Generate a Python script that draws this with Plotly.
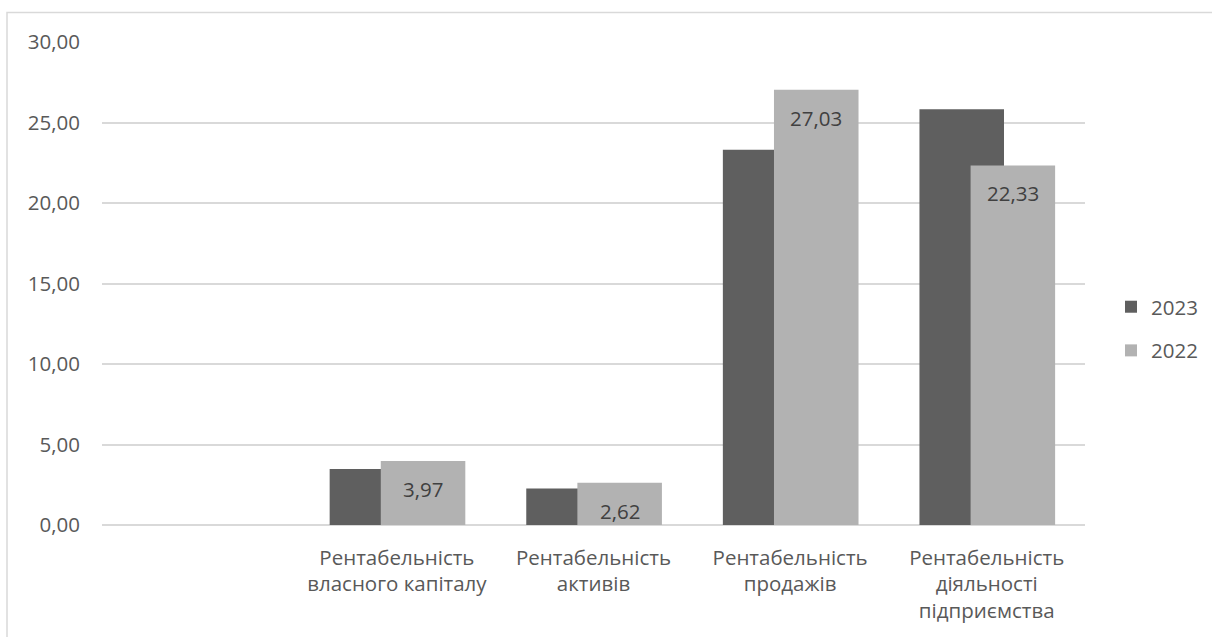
import plotly.graph_objects as go

categories = [" ", "Рентабельність<br>власного капіталу", "Рентабельність<br>активів",
              "Рентабельність<br>продажів", "Рентабельність<br>діяльності<br>підприємства"]
values_2023 = [None, 3.48, 2.26, 23.31, 25.82]
values_2022 = [None, 3.97, 2.62, 27.03, 22.33]
labels_2022 = ["", "3,97", "2,62", "27,03", "22,33"]
y_ticks = [0, 5, 10, 15, 20, 25, 30]
y_tick_labels = ["0,00", "5,00", "10,00", "15,00", "20,00", "25,00", "30,00"]

FONT = "Open Sans"
FS = 20.5
W, H = 1212, 637
ML, MR, MT, MB = 102, 127, 42, 112
plot_w = W - ML - MR
plot_h = H - MT - MB
cat_px = plot_w / len(categories)

bar_w = 0.43
off_23 = -0.342
off_22 = -0.082

fig = go.Figure()
fig.add_trace(go.Bar(x=categories, y=values_2023, name="2023", width=bar_w, offset=off_23,
                     marker=dict(color="#5f5f5f", line=dict(width=0)), legendgroup="a"))
fig.add_trace(go.Bar(x=categories, y=values_2022, name="2022", width=bar_w, offset=off_22,
                     marker=dict(color="#b2b2b2", line=dict(width=0)), legendgroup="b"))

xshift = (off_22 + bar_w / 2) * cat_px
for c, v, t in zip(categories, values_2022, labels_2022):
    if v is None:
        continue
    fig.add_annotation(x=c, y=v, text=t, showarrow=False, xshift=xshift, yshift=-28,
                       yanchor="middle", font=dict(family=FONT, size=FS, color="#404040"))

# outer chart border
fig.add_shape(type="rect", xref="paper", yref="paper",
              x0=(7 - ML) / plot_w, x1=(W + 5 - ML) / plot_w,
              y0=-(H + 5 - (H - MB)) / plot_h, y1=(H - MB - 12.5) / plot_h,
              line=dict(color="#d9d9d9", width=1.5), layer="below")

fig.update_layout(
    width=W, height=H,
    margin=dict(l=ML, r=MR, t=MT, b=MB, autoexpand=False),
    paper_bgcolor="white", plot_bgcolor="white",
    barmode="overlay",
    font=dict(family=FONT, size=FS, color="#595959"),
    showlegend=True,
    legend=dict(x=(1111 - ML) / plot_w, xanchor="left", y=0.406, yanchor="middle",
                font=dict(family=FONT, size=FS, color="#595959"),
                traceorder="grouped", tracegroupgap=14, itemwidth=30,
                bgcolor="rgba(0,0,0,0)"),
    xaxis=dict(type="category", showgrid=False, zeroline=False, showline=False,
               ticks="", tickfont=dict(family=FONT, size=FS, color="#595959"),
               ticklabelstandoff=18),
    yaxis=dict(range=[0, 30], tickvals=y_ticks, ticktext=y_tick_labels,
               showgrid=True, gridcolor="#d9d9d9", gridwidth=1.5,
               zeroline=True, zerolinecolor="#d9d9d9", zerolinewidth=1.5,
               showline=False, ticks="", ticklabelstandoff=21,
               tickfont=dict(family=FONT, size=FS, color="#595959")),
)

fig.write_html("out.html")
